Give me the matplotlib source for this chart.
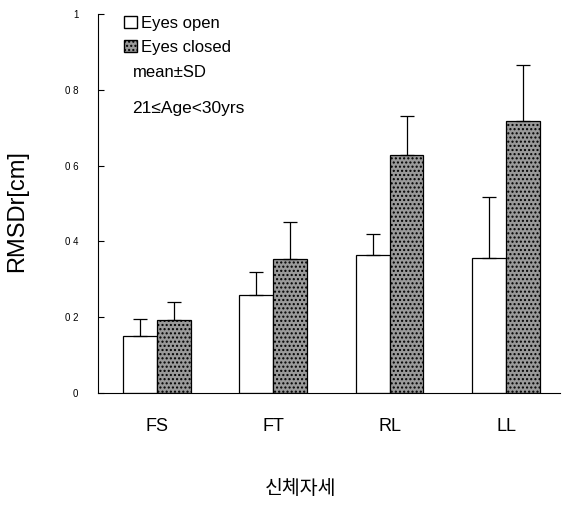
import numpy as np
import matplotlib.pyplot as plt
from matplotlib.patches import Patch

plt.rcParams['font.family'] = ['Liberation Sans', 'DejaVu Sans', 'Noto Sans CJK KR']

postures = ['FS', 'FT', 'RL', 'LL']
open_mean = [0.150, 0.258, 0.363, 0.355]
open_sd = [0.045, 0.062, 0.057, 0.163]
closed_mean = [0.192, 0.353, 0.629, 0.718]
closed_sd = [0.048, 0.097, 0.101, 0.148]
ytick_vals = [0, 0.2, 0.4, 0.6, 0.8, 1.0]
ytick_text = ['0', '0 2', '0 4', '0 6', '0 8', '1']

fig = plt.figure(figsize=(5.62, 5.05), dpi=100)
ax = fig.add_axes([0.174, 0.222, 0.822, 0.75])

x = np.arange(len(postures))
w = 0.29
ax.bar(x - w / 2, open_mean, w, color='white', edgecolor='black', linewidth=0.9,
       yerr=[np.zeros(4), open_sd], capsize=5,
       error_kw=dict(ecolor='black', elinewidth=0.9, capthick=0.9))
ax.bar(x + w / 2, closed_mean, w, color='#9a9a9a', edgecolor='black', linewidth=0.9,
       hatch='....', yerr=[np.zeros(4), closed_sd], capsize=5,
       error_kw=dict(ecolor='black', elinewidth=0.9, capthick=0.9))

ax.set_xlim(-0.506, 3.46)
ax.set_ylim(0, 1)
ax.set_xticks(x)
ax.set_xticklabels(postures, fontsize=13)
ax.tick_params(axis='x', length=0, pad=18)
ax.set_yticks(ytick_vals)
ax.set_yticklabels(ytick_text, fontsize=7)
ax.tick_params(axis='y', direction='in', length=4, pad=14)
for s in ['top', 'right']:
    ax.spines[s].set_visible(False)

ax.set_ylabel('RMSDr[cm]', fontsize=17)
ax.yaxis.set_label_coords(-0.15, 0.48)
ax.set_xlabel('신체자세', fontsize=14, family=['Noto Sans CJK KR'])
ax.xaxis.set_label_coords(0.44, -0.225)

handles = [Patch(facecolor='white', edgecolor='black', label='Eyes open'),
           Patch(facecolor='#9a9a9a', edgecolor='black', hatch='....', label='Eyes closed')]
ax.legend(handles=handles, loc='upper left', bbox_to_anchor=(0.025, 1.035), frameon=False,
          fontsize=12, handlelength=0.75, handleheight=0.75, handletextpad=0.25, labelspacing=0.55)
ax.text(0.075, 0.835, 'mean±SD', transform=ax.transAxes, fontsize=12)
ax.text(0.075, 0.74, '21≤Age<30yrs', transform=ax.transAxes, fontsize=12.5)

fig.savefig('out.png', dpi=100)
